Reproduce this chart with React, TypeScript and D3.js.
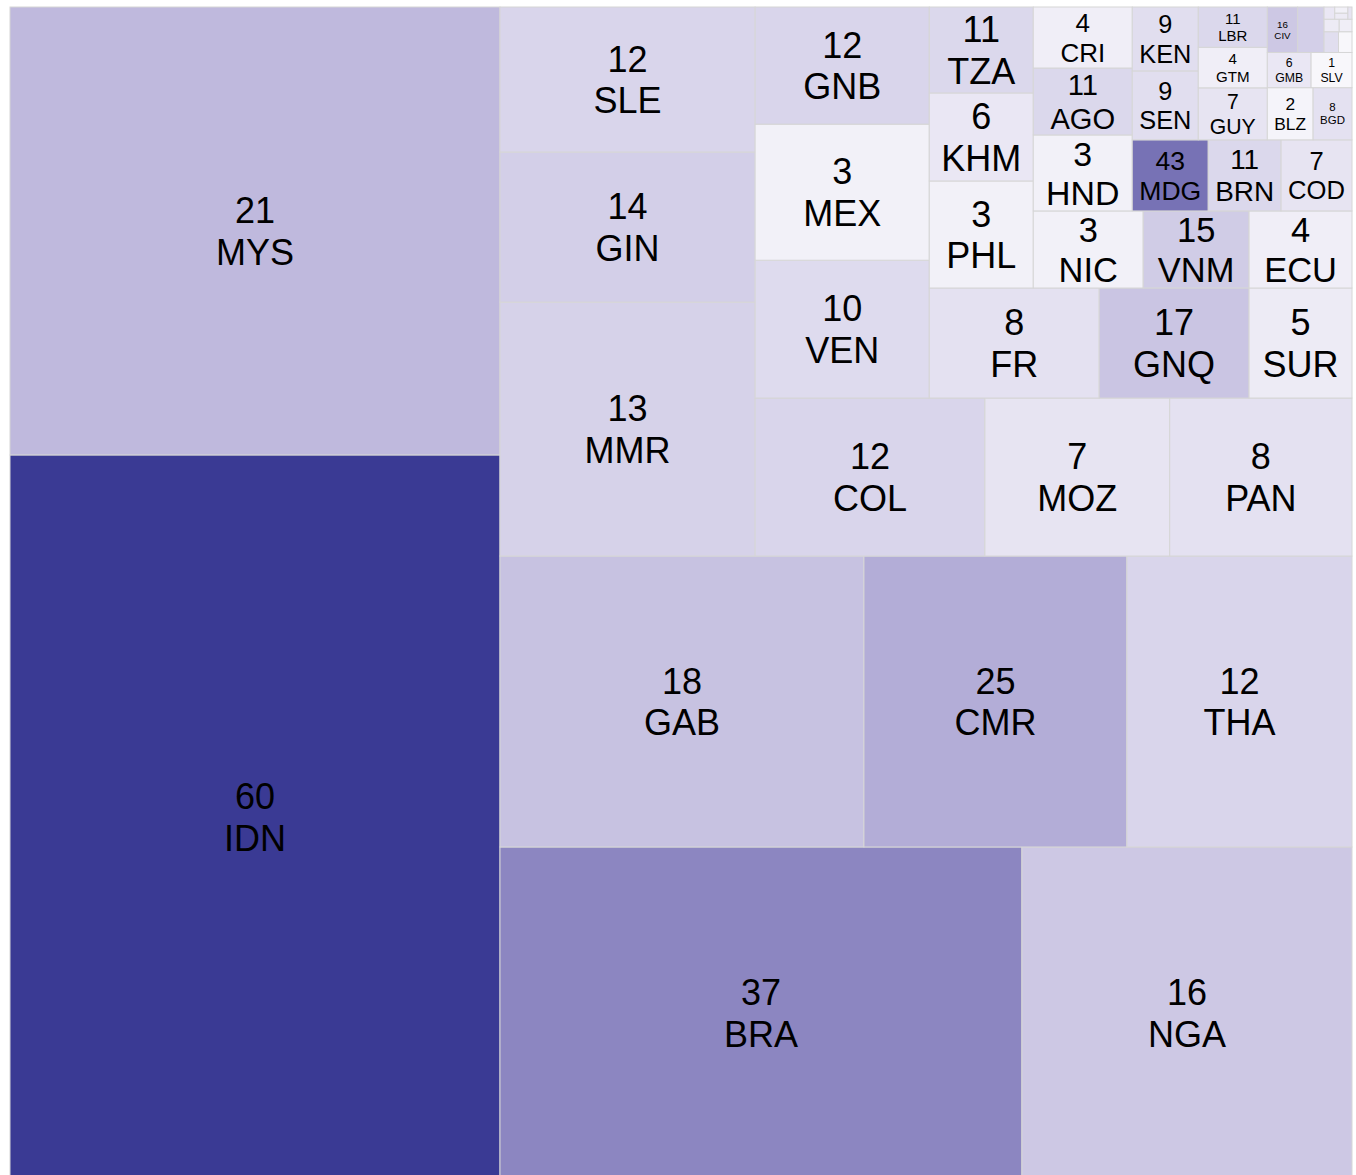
import React from 'react';
import * as d3 from 'd3';

// country codes, the score printed in each cell (drives colour) and the cell size
const codes = ['IDN', 'MYS', 'BRA', 'NGA', 'GAB', 'CMR', 'THA', 'MMR', 'GIN', 'SLE',
  'COL', 'MOZ', 'PAN', 'VEN', 'MEX', 'GNB', 'FR', 'GNQ', 'SUR', 'PHL',
  'KHM', 'TZA', 'NIC', 'VNM', 'ECU', 'HND', 'AGO', 'CRI', 'MDG', 'BRN',
  'COD', 'SEN', 'KEN', 'GUY', 'GTM', 'LBR', 'BLZ', 'BGD', 'GMB', 'SLV',
  'CIV', '', '', '', '', '', '', '', '', ''];

const scores = [60, 21, 37, 16, 18, 25, 12, 13, 14, 12,
  12, 7, 8, 10, 3, 12, 8, 17, 5, 3,
  6, 11, 3, 15, 4, 3, 11, 4, 43, 11,
  7, 9, 9, 7, 4, 11, 2, 8, 6, 1,
  16, 14, 9, 1, 5, 4, 6, 5, 3, 7];

const sizes = [354.8, 219.5, 173.3, 109.6, 105.9, 76.5, 65.5, 64.8, 38.3, 37.0,
  36.3, 29.2, 28.8, 24.0, 23.7, 20.4, 18.7, 16.5, 11.33, 11.13,
  9.15, 8.94, 8.47, 8.16, 7.93, 7.52, 6.63, 6.04, 5.40, 5.18,
  5.04, 4.55, 4.22, 3.59, 2.80, 2.78, 2.39, 2.03, 1.54, 1.44,
  1.38, 1.20, 0.30, 0.28, 0.19, 0.16, 0.13, 0.08, 0.08, 0.05];

const W = 1356;
const H = 1175;
const FONT = '"Liberation Sans", Arial, Helvetica, sans-serif';

// layout is computed in a unit square and stretched to the plot area (origin bottom-left)
const xScale = d3.scaleLinear().domain([0, 100]).range([10, 1352]);
const yScale = d3.scaleLinear().domain([0, 100]).range([1179, 7]);

const color = d3.scaleLinear<string>()
  .domain([0, 30, 60])
  .range(['#fbfafd', '#a59dcf', '#3a3a94'])
  .interpolate(d3.interpolateRgb);

let ctx: CanvasRenderingContext2D | null = null;
function textEm(s: string) {
  if (!ctx) ctx = document.createElement('canvas').getContext('2d');
  if (!ctx) return s.length * 0.65;
  ctx.font = `100px ${FONT}`;
  return ctx.measureText(s).width / 100;
}

export default function App() {
  const rows = codes.map((code, i) => ({ code, score: scores[i], size: sizes[i] }));

  const root = d3.hierarchy<any>({ children: rows })
    .sum((d: any) => d.size || 0)
    .sort((a, b) => (b.value ?? 0) - (a.value ?? 0));

  d3.treemap<any>()
    .tile(d3.treemapSquarify.ratio(1))
    .size([100, 100])(root);

  const leaves = root.leaves() as d3.HierarchyRectangularNode<any>[];

  return (
    <svg width={W} height={H} style={{ position: 'absolute', left: 0, top: 0 }}>
      {leaves.map((d, i) => {
        const x0 = xScale(d.x0);
        const x1 = xScale(d.x1);
        const y0 = yScale(d.y1);
        const y1 = yScale(d.y0);
        const w = x1 - x0;
        const h = y1 - y0;
        const lines = [String(d.data.score), d.data.code];
        const em = Math.max(textEm(lines[0]), textEm(lines[1]));
        const fs = Math.min(36, (w - 14) / em, (h - 12) * 0.53);
        const show = d.data.code !== '' && fs >= 6;
        const cx = (x0 + x1) / 2;
        const cy = (y0 + y1) / 2;
        const cap = 0.716 * fs;
        const lh = 1.15 * fs;
        const base1 = cy - (lh + cap) / 2 + cap;
        return (
          <g key={i}>
            <rect x={x0} y={y0} width={w} height={h}
              fill={color(d.data.score)} stroke="#d6d6d6" strokeWidth={1} />
            {show && (
              <text fontFamily={FONT} fontSize={fs} textAnchor="middle" fill="#000">
                <tspan x={cx} y={base1}>{lines[0]}</tspan>
                <tspan x={cx} y={base1 + lh}>{lines[1]}</tspan>
              </text>
            )}
          </g>
        );
      })}
    </svg>
  );
}
